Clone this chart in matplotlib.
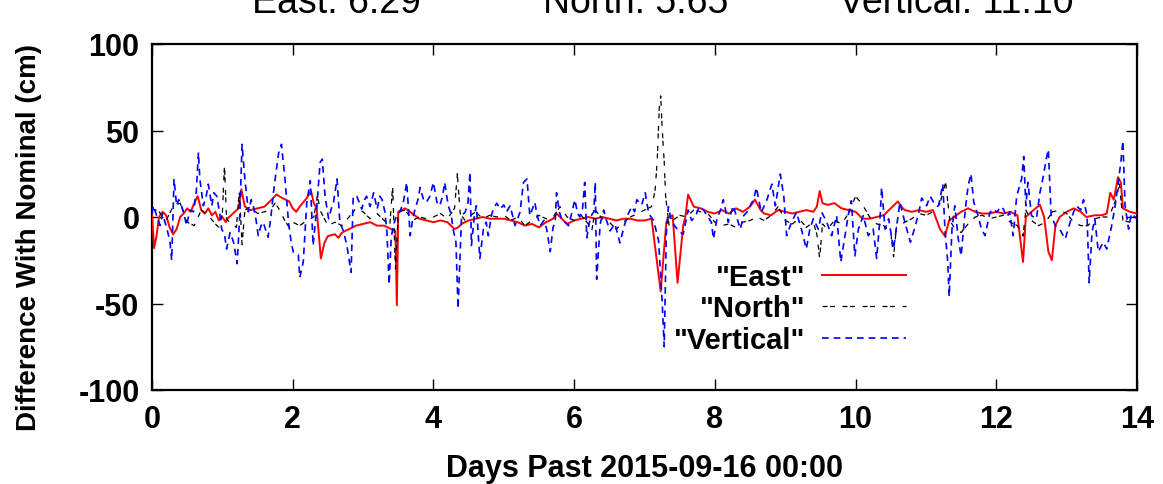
import matplotlib
matplotlib.use("Agg")
import matplotlib.pyplot as plt

# ---------------- data ----------------
east_days = [0.0, 0.03, 0.06, 0.1, 0.15, 0.2, 0.25, 0.3, 0.35, 0.4, 0.45, 0.5, 0.55, 0.6, 0.65, 0.7,
             0.75, 0.8, 0.85, 0.9, 0.95, 1.0, 1.05, 1.07, 1.23, 1.27, 1.32, 1.4, 1.5, 1.6, 1.65, 1.7,
             1.77, 1.85, 1.95, 2.0, 2.05, 2.1, 2.2, 2.26, 2.3, 2.34, 2.4, 2.45, 2.5, 2.6, 2.65, 2.7,
             2.8, 2.9, 3.0, 3.1, 3.2, 3.3, 3.4, 3.46, 3.48, 3.5, 3.6, 3.7, 3.8, 3.9, 4.0, 4.1, 4.2,
             4.3, 4.35, 4.4, 4.5, 4.6, 4.7, 4.8, 4.9, 5.0, 5.1, 5.2, 5.3, 5.4, 5.5, 5.6, 5.7, 5.75,
             5.8, 5.9, 6.0, 6.1, 6.2, 6.3, 6.4, 6.5, 6.6, 6.7, 6.8, 6.9, 7.0, 7.1, 7.23, 7.31, 7.35,
             7.4, 7.47, 7.55, 7.58, 7.62, 7.7, 7.8, 7.9, 8.0, 8.1, 8.2, 8.3, 8.4, 8.5, 8.57, 8.65,
             8.7, 8.8, 8.9, 9.0, 9.1, 9.2, 9.3, 9.4, 9.45, 9.49, 9.53, 9.6, 9.7, 9.8, 9.9, 10.0,
             10.1, 10.2, 10.3, 10.4, 10.5, 10.6, 10.65, 10.7, 10.8, 10.9, 11.0, 11.1, 11.2, 11.27,
             11.33, 11.4, 11.5, 11.6, 11.7, 11.8, 11.9, 12.0, 12.1, 12.2, 12.3, 12.38, 12.42, 12.5,
             12.62, 12.68, 12.74, 12.79, 12.84, 12.9, 13.0, 13.1, 13.2, 13.28, 13.4, 13.5, 13.57,
             13.62, 13.67, 13.73, 13.77, 13.8, 13.9, 14.0]
east_cm = [2, -18, -12, 0, 3, 1, -6, -10, -7, 0, 2, 5, 3, 8, 12, 4,
           2, 5, 1, 3, -2, 0, -3, -1, 5, 16, 6, 4, 5, 6, 8, 10,
           13, 11, 9, 5, 3, 6, 11, 15, 8, 5, -24, -15, -11, -10, -12, -9,
           -7, -5, -4, -3, -5, -5, -7, -8, -51, 3, 5, 2, -1, -2, -3, -2, -3,
           -7, -6, -4, -2, -1, 0, -1, -1, -1, -2, -3, -5, -4, -6, -3, -1, 2,
           0, -4, -2, -1, 0, -1, 0, -1, -2, -1, -1, -2, -2, -1, -43, -3, 0,
           1, -38, -5, 0, 13, 6, 5, 3, 2, 4, 2, 5, 3, 6, 10, 4,
           2, 1, 4, 3, 2, 3, 4, 3, 6, 15, 8, 7, 8, 5, 4, 3,
           -1, -1, 0, 1, 5, 9, 6, 4, 3, 4, 3, 4, -7, -11,
           -2, 0, 3, 5, 3, 2, 2, 3, 2, 3, 1, -26, 0, 3,
           7, 0, -20, -25, -5, 0, 3, 5, 3, 0, 1, 1, 2,
           14, 10, 23, 20, 5, 3, 2]

north_days = [0.0, 0.1, 0.2, 0.3, 0.4, 0.5, 0.6, 0.7, 0.8, 0.9, 0.95, 1.0, 1.03, 1.06, 1.1, 1.2,
              1.24, 1.28, 1.32, 1.4, 1.5, 1.6, 1.7, 1.75, 1.8, 1.9, 1.95, 2.0, 2.1, 2.2, 2.3, 2.35,
              2.4, 2.5, 2.6, 2.7, 2.8, 2.9, 3.0, 3.1, 3.2, 3.3, 3.38, 3.42, 3.46, 3.5, 3.6, 3.7,
              3.8, 3.9, 4.0, 4.1, 4.2, 4.3, 4.34, 4.38, 4.45, 4.5, 4.6, 4.7, 4.8, 4.9, 5.0, 5.1,
              5.2, 5.3, 5.4, 5.5, 5.6, 5.7, 5.8, 5.9, 6.0, 6.1, 6.2, 6.25, 6.3, 6.4, 6.5, 6.6, 6.7,
              6.8, 6.9, 7.0, 7.1, 7.15, 7.18, 7.21, 7.23, 7.25, 7.28, 7.3, 7.35, 7.4, 7.5, 7.6,
              7.7, 7.8, 7.9, 8.0, 8.1, 8.2, 8.3, 8.4, 8.5, 8.6, 8.7, 8.8, 8.9, 9.0, 9.1, 9.2, 9.3,
              9.4, 9.45, 9.49, 9.53, 9.6, 9.7, 9.8, 9.9, 10.0, 10.1, 10.2, 10.3, 10.4, 10.5, 10.54,
              10.58, 10.7, 10.8, 10.9, 11.0, 11.1, 11.2, 11.28, 11.34, 11.4, 11.5, 11.6, 11.7,
              11.8, 11.9, 12.0, 12.1, 12.2, 12.3, 12.38, 12.42, 12.5, 12.6, 12.7, 12.8, 12.9,
              13.0, 13.1, 13.2, 13.3, 13.4, 13.5, 13.6, 13.7, 13.75, 13.8, 13.9, 14.0]
north_cm = [5, 3, -2, 6, 8, -3, -5, 4, 1, -4, -6, 2, 30, -1, -3, -6,
            15, -16, 4, 6, 2, 3, 5, 8, 5, -3, -6, -3, -5, -2, 0, 12,
            3, -5, -3, -5, 0, 5, 3, -1, 2, -2, -5, 18, -30, 3, 4, -2,
            0, -1, 0, 2, -1, 5, 25, 2, -2, 0, 3, -1, 1, 0, 1, -2,
            0, -5, -2, 1, -1, 0, 6, 0, -2, 1, -4, -8, 4, -1, -3, -7, -3,
            0, 2, 4, 6, 15, 32, 63, 70, 52, 32, 12, -5, -2, 1, 0,
            4, 3, 2, -3, -5, -4, -6, -3, -2, 0, -2, 1, 6, -2, -4, -1, -6,
            -3, -10, -24, -4, -7, -2, -4, 2, 12, 7, 0, -4, -5, -9, -23,
            -6, -3, -1, 2, 1, 3, 8, 20, -2, -6, -9, -4, 0,
            1, -1, 0, 1, -3, -5, -11, 4, -2, -5, -3, 3, 4,
            2, -3, -5, -5, -1, 0, 0, 10, 19, -2, -3, -3]

vert_days = [0.0, 0.02, 0.066, 0.114, 0.15, 0.185, 0.22, 0.256, 0.28, 0.313, 0.35, 0.38, 0.42, 0.46,
             0.49, 0.54, 0.59, 0.63, 0.66, 0.68, 0.73, 0.77, 0.8, 0.85, 0.88, 0.92, 0.96, 0.99, 1.03,
             1.06, 1.11, 1.16, 1.21, 1.25, 1.28, 1.32, 1.37, 1.41, 1.44, 1.48, 1.51, 1.55, 1.58,
             1.62, 1.65, 1.69, 1.72, 1.76, 1.8, 1.84, 1.89, 1.94, 1.98,
             2.01, 2.08, 2.10, 2.15, 2.2, 2.25, 2.29, 2.34, 2.39, 2.42, 2.46, 2.51, 2.55, 2.58, 2.63,
             2.67, 2.72, 2.77, 2.83, 2.86, 2.91, 2.95, 2.98, 3.02, 3.05, 3.1, 3.15, 3.2, 3.24, 3.27,
             3.31, 3.34, 3.37, 3.40, 3.43, 3.47, 3.52, 3.57, 3.62, 3.67, 3.71, 3.74, 3.78, 3.81,
             3.86, 3.9, 3.95,
             4.0, 4.05, 4.09, 4.13, 4.16, 4.21, 4.25, 4.28, 4.32, 4.35, 4.40, 4.45, 4.49, 4.52, 4.54,
             4.58, 4.61, 4.66, 4.71, 4.75, 4.78, 4.82, 4.85, 4.9, 4.95, 5.0, 5.04, 5.09, 5.16, 5.23,
             5.28, 5.33, 5.37, 5.41, 5.44, 5.48, 5.52, 5.57, 5.61, 5.66, 5.7, 5.73, 5.75, 5.79,
             5.82, 5.87, 5.92, 5.97,
             6.01, 6.05, 6.08, 6.12, 6.15, 6.18, 6.23, 6.28, 6.30, 6.32, 6.37, 6.42, 6.46, 6.51,
             6.58, 6.62, 6.65, 6.72, 6.77, 6.82, 6.86, 6.89, 6.96, 7.01, 7.06, 7.13, 7.20, 7.25,
             7.28, 7.31, 7.34, 7.37, 7.41, 7.48, 7.55, 7.62, 7.67, 7.72, 7.78, 7.84, 7.9, 7.95,
             7.98, 8.03, 8.08, 8.12, 8.19, 8.26, 8.31, 8.36, 8.41, 8.46, 8.50, 8.55, 8.59, 8.66,
             8.74, 8.81, 8.86, 8.93, 8.98, 9.02, 9.09, 9.16, 9.23, 9.30, 9.35, 9.40, 9.47, 9.52,
             9.59, 9.66, 9.73, 9.79, 9.85, 9.9, 9.94,
             9.99, 10.04, 10.11, 10.18, 10.25, 10.30, 10.35, 10.37, 10.42, 10.47, 10.54, 10.63,
             10.70, 10.78, 10.85, 10.9, 10.94, 11.01, 11.06, 11.11, 11.18, 11.24, 11.27, 11.31,
             11.33, 11.37, 11.41, 11.46, 11.50, 11.56, 11.60, 11.64, 11.68, 11.74, 11.79, 11.84,
             11.91, 11.96,
             12.01, 12.06, 12.10, 12.15, 12.19, 12.24, 12.29, 12.36, 12.39, 12.42, 12.45, 12.50,
             12.57, 12.62, 12.67, 12.71, 12.74, 12.78, 12.84, 12.90, 12.98, 13.05, 13.1, 13.14,
             13.2, 13.24, 13.29, 13.32, 13.36, 13.40, 13.45, 13.52, 13.57, 13.64, 13.69, 13.74,
             13.77, 13.80, 13.83, 13.88, 13.92, 13.95, 14.0]
vert_cm = [2, 6.5, 0.8, -4.9, 2, -3, -8, -14.6, -25, 22, 6.5, 10, 6.5, 1,
           -5, 4, 3, 15, 37.4, 22, 6.5, 12, 19, 6.5, 14, 12, 3, -7, -10,
           -18.5, -9, -14.6, -27, 3, 42, 22, 3, 10, 6.5, -2, -10.8, -5, -3,
           -8, -11.7, 0, 12, 25, 37, 42, 22, -3, -15,
           -20.5, -22, -35, -26, 8.5, 21, -16.5, 4.6, 31.6, 33.5, 12, -1, 5, 8.5, 22,
           -3, -8, -16.5, -32, 12, 12, 8, 4.6, 10, 12, 6, 14, 4.6, 12, 10,
           3, -9, -39, -12, -5, 0, 2.7, 8, 20, -10.8, 0, 4.6, 10, 17,
           10, 8.5, 12,
           20, 8.5, 6.5, 12, 20, 6.5, 2, -7, -14.6, -53, 0.8, 2.7, 8, 26, -16.5,
           0, 6.5, -24, -7, -3, -10.8, 0, 4.6, 8, 4.6, 7, 3, 6.5, -5, 2.7,
           20, 22, 0.8, 5, 8.5, 0, -5, -2, -7, -20, -6, -3, 14, 3,
           -1, -3, -5, 3,
           10, 2, 0, 5, 20, -12, 0, 3, 20, -36, -4, 4, -2, -8,
           -4, -10, -15, -4, 2, 6, 3, 10, 7, 14, 1.9, -2, -13.6, -48,
           -75, -10, 6, 0, -4, -8, -10, 4, -2, 0, 6, 4, 0, -3,
           -12.7, -1, 4, 10, -3, 6.5, 0, -7, 0.8, 3, 6.5, 10, 17, 2.7,
           10, 19, 6.5, 24.8, 12, -10.8, -3, 2.7, -7, -18.5, -7, -1, -7, 2.7,
           -3, -10.8, 0.8, -26, -10.8, 2, 9.4,
           -22.5, -7, 0.8, -10.8, -7, -24, 0.8, 17, -7, -1, -18.5, 8.5,
           -3, -14.6, -5, 3, 11, 6.5, 12, 8.5, 6.5, 19, -7, -26,
           -46, -7, 6.5, -12.7, -22.5, 4.6, 18, 25, 8.5, 0.8, -7, -10.8,
           2.7, 4.6,
           2.7, 6, 4.6, 0, 2.7, -10.8, 12, 22, 35, 6.5, 20, 0.8,
           -1, 14, 23.9, 33.5, 39, 0.8, -5, -7, -12.7, -3, 3, 6.5,
           4, 10, 0.8, -38, -9, -1, -20, -14.6, -18.5, -5, 6.5, 22,
           31.6, 44, 6.5, -7, 2, 0.8, -1]

series_labels = ['"East"', '"North"', '"Vertical"']
title_parts = ["East: 6.29", "North: 5.65", "Vertical: 11.10"]
x_ticks = [0, 2, 4, 6, 8, 10, 12, 14]
y_ticks = [-100, -50, 0, 50, 100]
x_label = "Days Past 2015-09-16 00:00"
y_label = "Difference With Nominal (cm)"

# ---------------- figure ----------------
W, H = 1163, 485
fig = plt.figure(figsize=(W / 100, H / 100), dpi=100)
ax = fig.add_axes([152 / W, 1 - 391 / H, (1137 - 152) / W, (391 - 45) / H])

bold = dict(family="Liberation Sans", weight="bold")

ax.plot(east_days, east_cm, color="#ff0000", lw=1.4, label=series_labels[0], zorder=3)
ax.plot(north_days, north_cm, color="black", lw=0.9, dashes=(4, 2, 4, 6),
        label=series_labels[1], zorder=4)
ax.plot(vert_days, vert_cm, color="#0000ff", lw=1.2, dashes=(4, 3),
        label=series_labels[2], zorder=5)

ax.set_xlim(0, 14)
ax.set_ylim(-100, 100)
ax.set_xticks(x_ticks)
ax.set_yticks(y_ticks)
ax.set_xticklabels([str(v) for v in x_ticks], **bold, fontsize=22)
ax.set_yticklabels([str(v) for v in y_ticks], **bold, fontsize=22)
ax.tick_params(direction="in", length=8, width=1.0, top=True, right=True, pad=10)
ax.tick_params(axis="y", pad=9)
for s in ax.spines.values():
    s.set_linewidth(1.6)

ax.set_xlabel(x_label, **bold, fontsize=22, labelpad=14)
ax.set_ylabel(y_label, **bold, fontsize=20)
ax.yaxis.set_label_coords(-0.112, 0.445)

leg = ax.legend(loc="center", bbox_to_anchor=(789.5 / W, 1 - 309.5 / H),
                bbox_transform=fig.transFigure, frameon=False, markerfirst=False,
                prop=dict(family="Liberation Sans", weight="bold", size=21),
                handlelength=2.85, handletextpad=0.6, labelspacing=0.12, borderpad=0)

xs = [336, 636, 956]
for x, t in zip(xs, title_parts):
    fig.text(x / W, 1 - 13 / H, t, ha="center", va="baseline",
             family="Liberation Sans", fontsize=27)

fig.savefig("out.png", dpi=100)
